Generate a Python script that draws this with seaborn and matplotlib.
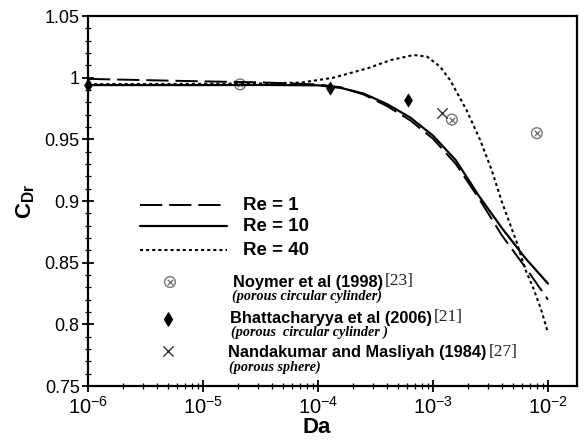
import numpy as np
import pandas as pd
import matplotlib
matplotlib.use("Agg")
import matplotlib.pyplot as plt
import matplotlib.ticker as mticker
import seaborn as sns

# ---------------- data ----------------
da_lo = [1e-6, 1e-5, 3.16e-5, 1e-4, 1.58e-4, 2.51e-4, 3.98e-4, 6.31e-4,
         1e-3, 1.58e-3, 2.51e-3, 3.98e-3, 6.31e-3, 1e-2]
cd_re1 = [0.999, 0.997, 0.9962, 0.9945, 0.9922, 0.9862, 0.977, 0.9655,
          0.9505, 0.930, 0.902, 0.872, 0.8466, 0.820]
cd_re10 = [0.994, 0.994, 0.9941, 0.9938, 0.9917, 0.987, 0.9786, 0.9678,
           0.953, 0.933, 0.904, 0.878, 0.854, 0.833]

da_re40 = [1e-6, 1e-5, 3.16e-5, 7.1e-5, 1.35e-4, 2.7e-4, 4.3e-4, 6.8e-4,
           8.9e-4, 1.15e-3, 1.41e-3, 1.95e-3, 2.57e-3, 3.24e-3, 3.98e-3,
           5.37e-3, 6.31e-3, 7.41e-3, 8.71e-3, 1e-2]
cd_re40 = [0.9947, 0.995, 0.9953, 0.996, 0.9999, 1.0076, 1.0143, 1.0184,
           1.017, 1.009, 0.998, 0.974, 0.9495, 0.925, 0.899,
           0.866, 0.845, 0.830, 0.812, 0.793]

noymer_da = [2.1e-5, 1.46e-3, 8.0e-3]
noymer_cd = [0.9945, 0.966, 0.955]
bhatta_da = [1e-6, 1.27e-4, 6.07e-4]
bhatta_cd = [0.994, 0.992, 0.9817]
nanda_da = [1.2e-3]
nanda_cd = [0.971]

y_ticks = [0.75, 0.8, 0.85, 0.9, 0.95, 1.0, 1.05]
x_ticks = [1e-6, 1e-5, 1e-4, 1e-3, 1e-2]

# ---------------- style ----------------
sns.set_theme(style="white")
plt.rcParams["font.family"] = ["Liberation Sans", "DejaVu Sans"]
plt.rcParams["mathtext.fontset"] = "custom"
plt.rcParams["mathtext.rm"] = "Liberation Sans"
plt.rcParams["mathtext.bf"] = "Liberation Sans:bold"
plt.rcParams["mathtext.it"] = "Liberation Sans:italic"
plt.rcParams["lines.scale_dashes"] = False
plt.rcParams["text.color"] = "black"
plt.rcParams["axes.labelcolor"] = "black"
plt.rcParams["xtick.color"] = "black"
plt.rcParams["ytick.color"] = "black"

fig = plt.figure(figsize=(5.84, 4.41), dpi=100)
ax = fig.add_axes([88 / 584, 1 - 386 / 441, 489 / 584, 370 / 441])

dash_re1 = (0, (16, 5))
dot_re40 = (0, (2.2, 2.2))

sns.lineplot(x=da_lo, y=cd_re1, ax=ax, color="black", lw=1.4,
             linestyle=dash_re1, errorbar=None)
sns.lineplot(x=da_lo, y=cd_re10, ax=ax, color="black", lw=1.6,
             linestyle="-", errorbar=None)
sns.lineplot(x=da_re40, y=cd_re40, ax=ax, color="black", lw=1.5,
             linestyle=dot_re40, errorbar=None)

grey = "#777777"
sns.scatterplot(x=noymer_da, y=noymer_cd, ax=ax, marker="o", s=60,
                facecolor="none", edgecolor=grey, linewidth=1.0, clip_on=False)
sns.scatterplot(x=noymer_da, y=noymer_cd, ax=ax, marker="x", s=16,
                color=grey, linewidth=1.0, clip_on=False)
sns.scatterplot(x=bhatta_da, y=bhatta_cd, ax=ax, marker="d", s=45,
                color="black", edgecolor="black", linewidth=0.5, clip_on=False)
sns.scatterplot(x=nanda_da, y=nanda_cd, ax=ax, marker="x", s=55,
                color="#333333", linewidth=1.0, clip_on=False)

ax.set_xscale("log")
ax.set_xlim(1e-6, 10 ** (-6 + 489 / 115))
ax.set_ylim(0.75, 1.05)
ax.set_xticks(x_ticks)
ax.xaxis.set_minor_locator(mticker.LogLocator(base=10, subs=np.arange(2, 10)))
ax.xaxis.set_minor_formatter(mticker.NullFormatter())
ax.set_yticks(y_ticks)
ax.yaxis.set_major_formatter(mticker.FuncFormatter(lambda v, p: "%g" % v))
ax.yaxis.set_minor_locator(mticker.MultipleLocator(0.01))

ax.tick_params(which="both", bottom=True, left=True, top=False, right=False)
ax.tick_params(which="major", direction="inout", length=8, width=1.3,
               labelsize=13, colors="black", pad=2)
ax.tick_params(which="minor", direction="inout", length=4, width=0.9,
               colors="black")
ax.tick_params(axis="x", which="major", pad=3, labelsize=14.5)
for sp in ax.spines.values():
    sp.set_linewidth(1.6)
    sp.set_color("black")

ax.set_xlabel("Da", fontsize=16, fontweight="bold", color="black")
ax.xaxis.set_label_coords((317 - 88) / 489, -0.085)
ax.set_ylabel(r"$\mathbf{C}_{\mathbf{Dr}}$", fontsize=16, color="black")
ax.yaxis.set_label_coords(-0.104, 0.5)

# ---------------- legend (drawn in axes coordinates) ----------------
def ax_xy(px, py):
    return (px - 88) / 489, (386 - py) / 370

tr = ax.transAxes
for (ly, ls, lw, lab) in [(205, dash_re1, 1.4, "Re = 1"),
                          (226, "-", 1.6, "Re = 10"),
                          (250, dot_re40, 1.5, "Re = 40")]:
    x0, y0 = ax_xy(140, ly)
    x1, _ = ax_xy(227, ly)
    ax.plot([x0, x1], [y0, y0], transform=tr, color="black", lw=lw,
            linestyle=ls)
    tx, ty = ax_xy(243, ly)
    ax.text(tx, ty, lab, transform=tr, fontsize=13.5, fontweight="bold",
            va="center", ha="left", color="black")

mx, my = ax_xy(170, 282)
ax.scatter([mx], [my], transform=tr, marker="o", s=60, facecolor="none",
           edgecolor=grey, linewidth=1.0)
ax.scatter([mx], [my], transform=tr, marker="x", s=16, color=grey,
           linewidth=1.0)
mx, my = ax_xy(168, 319)
ax.scatter([mx], [my], transform=tr, marker="d", s=45, color="black")
mx, my = ax_xy(168, 351)
ax.scatter([mx], [my], transform=tr, marker="x", s=55, color="#333333",
           linewidth=1.0)

entries = [
    (233, 282, "Noymer et al (1998)", "[23]", 232, 296,
     "(porous circular cylinder)"),
    (230, 318, "Bhattacharyya et al (2006)", "[21]", 231, 332,
     "(porous  circular cylinder )"),
    (228, 353, "Nandakumar and Masliyah (1984)", "[27]", 229, 367,
     "(porous sphere)"),
]
for (px, py, main, ref, sx, sy, sub) in entries:
    tx, ty = ax_xy(px, py)
    t = ax.text(tx, ty, main, transform=tr, fontsize=11.8, fontweight="bold",
                va="center", ha="left", color="black")
    ax.annotate(ref, xy=(1, 0.5), xycoords=t, xytext=(1.5, 0.5),
                textcoords="offset points", va="center", ha="left",
                fontsize=12.5, family="Liberation Serif", color="#222222")
    sx_, sy_ = ax_xy(sx, sy)
    ax.text(sx_, sy_, sub, transform=tr, fontsize=10.2, fontweight="bold",
            style="italic", family="Liberation Serif", va="center", ha="left",
            color="black")

fig.savefig("out.png", dpi=100)
